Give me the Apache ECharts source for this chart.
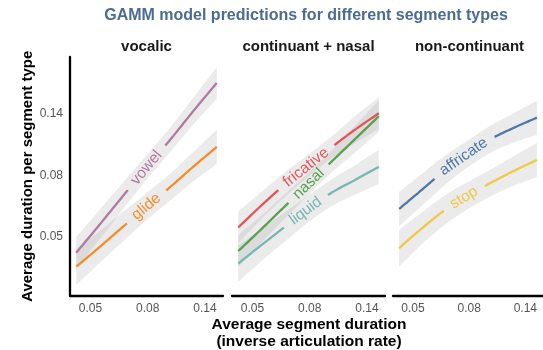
<!DOCTYPE html>
<html>
<head>
<meta charset="utf-8">
<script src="https://cdn.jsdelivr.net/npm/echarts@6/dist/echarts.min.js"></script>
<style>
html,body{margin:0;padding:0;background:#fff;}
#chart{width:543px;height:350px;}
</style>
</head>
<body>
<div id="chart"></div>
<script>
// ---- data ----
const xVals = [0.044, 0.054, 0.066, 0.081, 0.100, 0.122, 0.150];

const vowel      = [0.0436, 0.0549, 0.0691, 0.0871, 0.1098, 0.1383, 0.1743];
const vowelSe    = [0.13, 0.12, 0.11, 0.10, 0.10, 0.11, 0.13];
const glide      = [0.0389, 0.0457, 0.0538, 0.0634, 0.0746, 0.0879, 0.1034];
const glideSe    = [0.15, 0.13, 0.12, 0.11, 0.11, 0.12, 0.14];

const fricative  = [0.0536, 0.0643, 0.0760, 0.0887, 0.1036, 0.1191, 0.1361];
const fricativeSe= [0.13, 0.11, 0.10, 0.09, 0.09, 0.11, 0.13];
const nasal      = [0.0442, 0.0530, 0.0636, 0.0763, 0.0923, 0.1103, 0.1329];
const nasalSe    = [0.13, 0.11, 0.10, 0.09, 0.09, 0.11, 0.13];
const liquid     = [0.0399, 0.0465, 0.0538, 0.0623, 0.0714, 0.0790, 0.0879];
const liquidSe   = [0.15, 0.13, 0.12, 0.11, 0.11, 0.12, 0.14];

const affricate  = [0.0623, 0.0730, 0.0853, 0.0977, 0.1106, 0.1208, 0.1313];
const affricateSe= [0.14, 0.13, 0.12, 0.11, 0.11, 0.12, 0.14];
const stop       = [0.0453, 0.0533, 0.0617, 0.0695, 0.0773, 0.0850, 0.0930];
const stopSe     = [0.15, 0.13, 0.12, 0.11, 0.11, 0.12, 0.14];

const facetNames = ['vocalic', 'continuant + nasal', 'non-continuant'];
const facetSeries = [
  [['vowel', vowel, vowelSe], ['glide', glide, glideSe]],
  [['fricative', fricative, fricativeSe], ['nasal', nasal, nasalSe], ['liquid', liquid, liquidSe]],
  [['affricate', affricate, affricateSe], ['stop', stop, stopSe]]
];
const tickLabels = ['0.05', '0.08', '0.14'];
const tickLogBreaks = [-3, -2.5, -2];

// ---- styles ----
const colors = {
  vowel: '#b07aa1', glide: '#f28e2b', fricative: '#e15759', nasal: '#59a14f',
  liquid: '#76b7b2', affricate: '#4e79a7', stop: '#edc948'
};
const FONT = '"Liberation Sans", Arial, Helvetica, sans-serif';
const LABEL_SIZE = 15.5;
const GAP_PAD = 9.3;

const mctx = document.createElement('canvas').getContext('2d');
function measure(t) { mctx.font = LABEL_SIZE + 'px ' + FONT; return mctx.measureText(t).width; }

function catmull(pts, n) {
  const out = [];
  for (let i = 0; i < pts.length - 1; i++) {
    const p0 = pts[i - 1] || pts[i], p1 = pts[i], p2 = pts[i + 1], p3 = pts[i + 2] || pts[i + 1];
    for (let k = 0; k < n; k++) {
      const t = k / n, t2 = t * t, t3 = t2 * t;
      const f = (a, b, c, d) => 0.5 * (2 * b + (-a + c) * t + (2 * a - 5 * b + 4 * c - d) * t2 + (-a + 3 * b - 3 * c + d) * t3);
      out.push([f(p0[0], p1[0], p2[0], p3[0]), f(p0[1], p1[1], p2[1], p3[1])]);
    }
  }
  out.push(pts[pts.length - 1]);
  return out;
}

function renderRibbon(ys, se) {
  return function (params, api) {
    if (params.dataIndex !== 0) return null;
    const up = catmull(xVals.map((x, i) => api.coord([Math.log(x), Math.log(ys[i]) + se[i]])), 12);
    const lo = catmull(xVals.map((x, i) => api.coord([Math.log(x), Math.log(ys[i]) - se[i]])), 12);
    return {
      type: 'polygon',
      shape: { points: up.concat(lo.reverse()) },
      style: { fill: 'rgba(153,153,153,0.2)', stroke: null }
    };
  };
}

function renderLine(label, ys, color) {
  return function (params, api) {
    if (params.dataIndex !== 0) return null;
    const pts = catmull(xVals.map((x, i) => api.coord([Math.log(x), Math.log(ys[i])])), 12);
    const cum = [0];
    for (let i = 1; i < pts.length; i++) {
      cum.push(cum[i - 1] + Math.hypot(pts[i][0] - pts[i - 1][0], pts[i][1] - pts[i - 1][1]));
    }
    const L = cum[cum.length - 1];
    function at(s) {
      for (let i = 1; i < pts.length; i++) {
        if (cum[i] >= s) {
          const f = (s - cum[i - 1]) / (cum[i] - cum[i - 1] || 1);
          return [pts[i - 1][0] + f * (pts[i][0] - pts[i - 1][0]), pts[i - 1][1] + f * (pts[i][1] - pts[i - 1][1])];
        }
      }
      return pts[pts.length - 1];
    }
    const mid = L / 2;
    const gh = measure(label) / 2 + GAP_PAD;
    const a = mid - gh, b = mid + gh;
    const part1 = [], part2 = [];
    for (let i = 0; i < pts.length; i++) { if (cum[i] < a) part1.push(pts[i]); }
    part1.push(at(a));
    part2.push(at(b));
    for (let i = 0; i < pts.length; i++) { if (cum[i] > b) part2.push(pts[i]); }
    const c = at(mid), p = at(mid - 4), q = at(mid + 4);
    const rot = -Math.atan2(q[1] - p[1], q[0] - p[0]);
    const ls = { stroke: color, lineWidth: 2.3, fill: null, lineCap: 'butt' };
    return {
      type: 'group',
      children: [
        { type: 'polyline', shape: { points: part1 }, style: ls },
        { type: 'polyline', shape: { points: part2 }, style: ls },
        {
          type: 'text', x: c[0], y: c[1], rotation: rot,
          style: { text: label, fill: color, font: LABEL_SIZE + 'px ' + FONT, align: 'center', verticalAlign: 'middle' }
        }
      ]
    };
  };
}

// ---- layout ----
const panelLefts = [70, 232, 393];
const panelW = 153, panelTop = 57, panelH = 238.5;
const xMin = -3.178, xMax = -1.843, yMin = -3.482, yMax = -1.535;

const grids = [], xAxes = [], yAxes = [], series = [];
panelLefts.forEach((l, i) => {
  grids.push({ left: l, top: panelTop, width: panelW, height: panelH, containLabel: false });
  xAxes.push({
    gridIndex: i, type: 'value', min: xMin, max: xMax,
    splitLine: { show: false }, axisTick: { show: false },
    axisLine: { show: true, onZero: false, lineStyle: { color: '#000', width: 2.3 } },
    axisLabel: {
      customValues: tickLogBreaks, margin: 7, color: '#555', fontSize: 12, fontFamily: FONT,
      formatter: v => tickLabels[tickLogBreaks.findIndex(t => Math.abs(t - v) < 1e-6)] || ''
    }
  });
  yAxes.push({
    gridIndex: i, type: 'value', min: yMin, max: yMax,
    splitLine: { show: false }, axisTick: { show: false },
    axisLine: { show: i === 0, onZero: false, lineStyle: { color: '#000', width: 2.3 } },
    axisLabel: {
      show: i === 0, customValues: tickLogBreaks, margin: 7, color: '#555', fontSize: 12, fontFamily: FONT,
      formatter: v => tickLabels[tickLogBreaks.findIndex(t => Math.abs(t - v) < 1e-6)] || ''
    },
    name: i === 0 ? 'Average duration per segment type' : '',
    nameLocation: 'middle', nameGap: 35, nameRotate: 90,
    nameTextStyle: { fontSize: 15, fontWeight: 'bold', color: '#000', fontFamily: FONT }
  });
  facetSeries[i].forEach(([name, ys, se]) => {
    series.push({
      type: 'custom', name: name + ' ribbon', xAxisIndex: i, yAxisIndex: i, z: 1,
      data: [[-2.5, -2.5]], renderItem: renderRibbon(ys, se), silent: true
    });
  });
  facetSeries[i].forEach(([name, ys]) => {
    series.push({
      type: 'custom', name: name, xAxisIndex: i, yAxisIndex: i, z: 3,
      data: [[-2.5, -2.5]], renderItem: renderLine(name, ys, colors[name]), silent: true
    });
  });
});

const graphics = [
  { type: 'text', x: 306, y: 16, style: { text: 'GAMM model predictions for different segment types', fill: '#4a6b94', font: 'bold 16px ' + FONT, align: 'center', verticalAlign: 'middle' } },
  { type: 'text', x: 309, y: 333, style: { text: 'Average segment duration\n(inverse articulation rate)', fill: '#000', font: 'bold 15.5px ' + FONT, align: 'center', verticalAlign: 'middle', lineHeight: 16.5 } }
];
facetNames.forEach((n, i) => {
  graphics.push({ type: 'text', x: panelLefts[i] + panelW / 2, y: 47, style: { text: n, fill: '#1a1a1a', font: 'bold 15px ' + FONT, align: 'center', verticalAlign: 'middle' } });
});

const chart = echarts.init(document.getElementById('chart'), null, { renderer: 'canvas' });
chart.setOption({
  animation: false,
  backgroundColor: '#fff',
  grid: grids, xAxis: xAxes, yAxis: yAxes, series: series,
  graphic: graphics
});
</script>
</body>
</html>
